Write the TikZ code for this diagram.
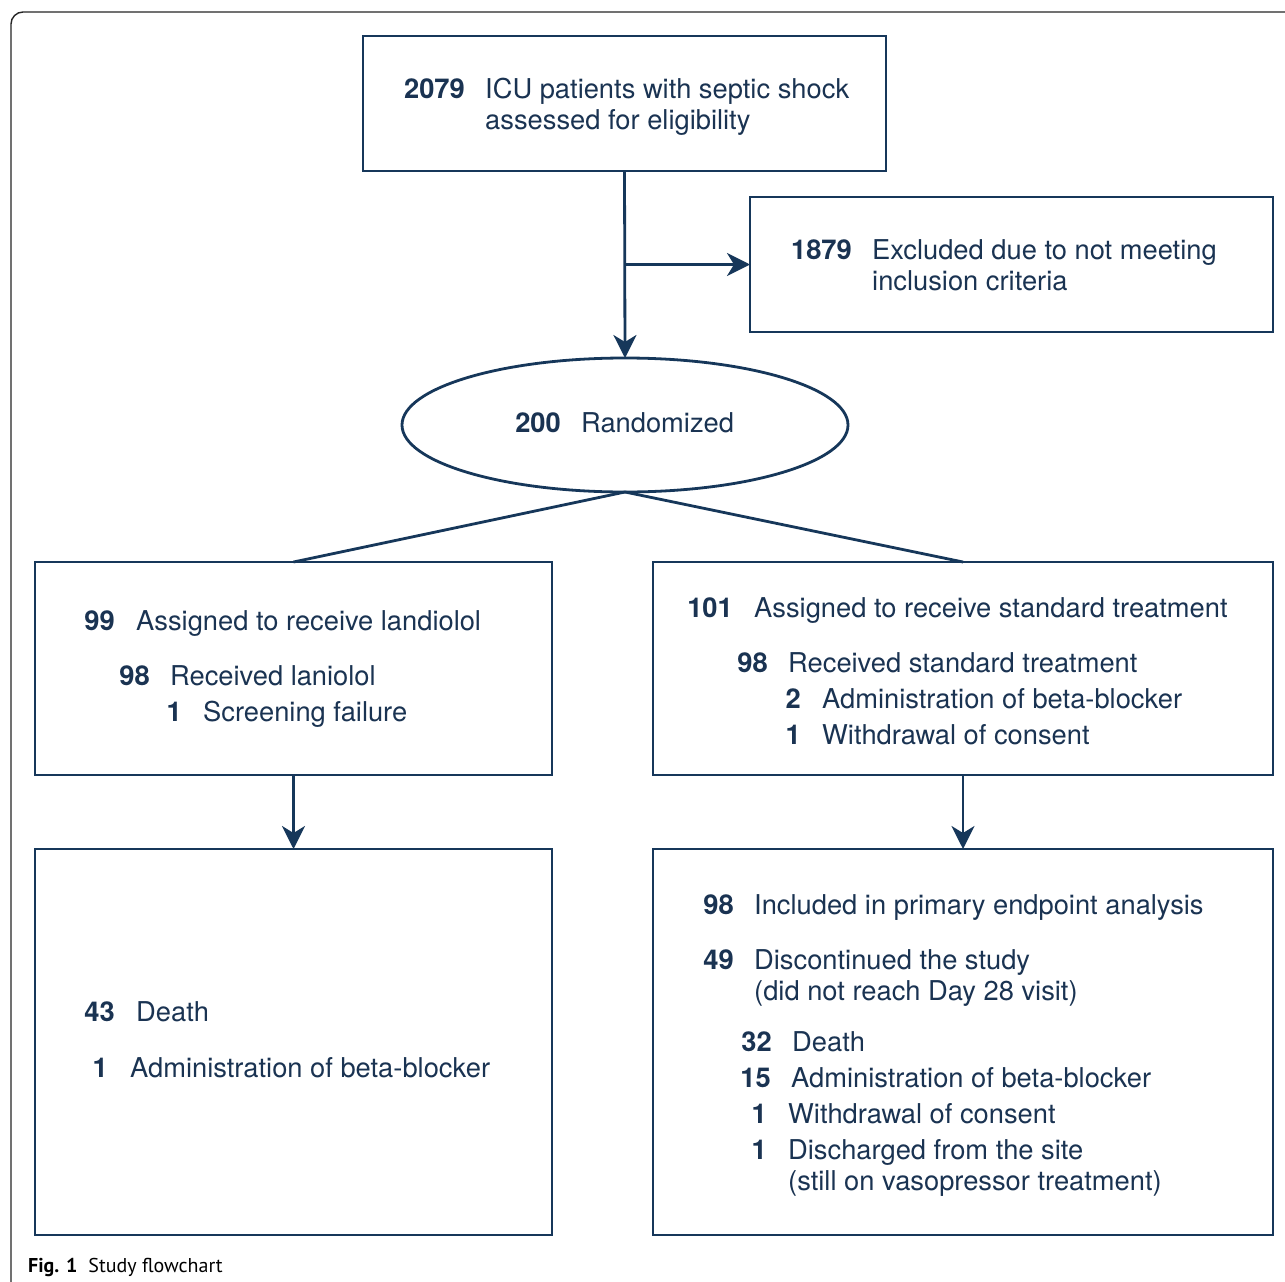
\documentclass[tikz,border=0pt]{standalone}
\usepackage{fontspec}
\setmainfont{TeX Gyre Heros}
\newfontfamily\capfont{PT Sans}
\usetikzlibrary{arrows.meta,shapes.geometric}
\definecolor{navyline}{HTML}{16375A}
\definecolor{navytext}{HTML}{1A3352}
\begin{document}
\begin{tikzpicture}[x=1pt,y=-1pt,
  box/.style={draw=navyline,line width=2.8pt,rectangle,inner sep=0pt,outer sep=0pt},
  oval/.style={draw=navyline,line width=2.8pt,ellipse,inner sep=0pt,outer sep=0pt},
  conn/.style={draw=navyline,line width=2.8pt},
  arr/.style={conn,-{Stealth[length=23pt,width=23pt,inset=7pt]}},
  num/.style={anchor=base east,inner sep=0pt,text=navytext,font=\fontsize{27.3}{31}\selectfont\bfseries},
  lbl/.style={anchor=base west,inner sep=0pt,text=navytext,font=\fontsize{27.3}{31}\selectfont},
]
\useasboundingbox (0,0) rectangle (1285,1282);
\fill[white] (0,0) rectangle (1285,1282);
% outer frame
\draw[line width=1.4pt,color=black!85,rounded corners=12pt] (11,1300) -- (11,12) -- (1300,12);

% boxes
\node[box,minimum width=523pt,minimum height=135pt] (top) at (624.5,103.5) {};
\node[box,minimum width=523pt,minimum height=135pt] (excl) at (1011.5,264.5) {};
\node[oval,minimum width=446pt,minimum height=134pt] (rand) at (625,425) {};
\node[box,minimum width=517pt,minimum height=213pt] (L1) at (293.5,668.5) {};
\node[box,minimum width=620pt,minimum height=213pt] (R1) at (963,668.5) {};
\node[box,minimum width=517pt,minimum height=386pt] (L2) at (293.5,1042) {};
\node[box,minimum width=620pt,minimum height=386pt] (R2) at (963,1042) {};

% connectors
\coordinate (branch) at (top.south |- excl.west);
\draw[arr] (top.south) -- (rand.north);
\draw[arr] (branch) -- (excl.west);
\draw[conn] (rand.south) -- (L1.north);
\draw[conn] (rand.south) -- (R1.north);
\draw[arr] (L1.south) -- (L2.north);
\draw[arr] (R1.south) -- (R2.north);

% top box text
\node[num] (n2079) at (465,98.5) {2079};
\node[lbl] (t2079a) at (485,98.5) {ICU patients with septic shock};
\node[lbl] (t2079b) at (485,129.5) {assessed for eligibility};
% excluded
\node[num] (n1879) at (852,259.5) {1879};
\node[lbl] (t1879a) at (872,259.5) {Excluded due to not meeting};
\node[lbl] (t1879b) at (872,290.5) {inclusion criteria};
% randomized
\node[num] (n200) at (561,432.5) {200};
\node[lbl] (t200) at (581,432.5) {Randomized};
% left box 1
\node[num] (n99) at (115,630.5) {99};
\node[lbl] (t99) at (136,630.5) {Assigned to receive landiolol};
\node[num] (nL98) at (150,685.5) {98};
\node[lbl] (tL98) at (170,685.5) {Received laniolol};
\node[num] (nL1) at (182,721.5) {1};
\node[lbl] (tL1) at (203,721.5) {Screening failure};
% right box 1
\node[num] (n101) at (733,617.5) {101};
\node[lbl] (t101) at (754,617.5) {Assigned to receive standard treatment};
\node[num] (nR98) at (768,672.5) {98};
\node[lbl] (tR98) at (788,672.5) {Received standard treatment};
\node[num] (nR2) at (801,708.5) {2};
\node[lbl] (tR2) at (822,708.5) {Administration of beta-blocker};
\node[num] (nR1) at (801,744.5) {1};
\node[lbl] (tR1) at (822,744.5) {Withdrawal of consent};
% left box 2
\node[num] (n43) at (115,1021.5) {43};
\node[lbl] (t43) at (136,1021.5) {Death};
\node[num] (nL2b) at (108,1077.5) {1};
\node[lbl] (tL2b) at (130,1077.5) {Administration of beta-blocker};
% right box 2
\node[num] (nP98) at (734,914.5) {98};
\node[lbl] (tP98) at (754,914.5) {Included in primary endpoint analysis};
\node[num] (n49) at (734,969.5) {49};
\node[lbl] (t49a) at (754,969.5) {Discontinued the study};
\node[lbl] (t49b) at (754,1000.5) {(did not reach Day 28 visit)};
\node[num] (n32) at (772,1051.5) {32};
\node[lbl] (t32) at (792,1051.5) {Death};
\node[num] (n15) at (771,1087.5) {15};
\node[lbl] (t15) at (791,1087.5) {Administration of beta-blocker};
\node[num] (nW1) at (767,1123.5) {1};
\node[lbl] (tW1) at (788,1123.5) {Withdrawal of consent};
\node[num] (nD1) at (767,1159.5) {1};
\node[lbl] (tD1a) at (788,1159.5) {Discharged from the site};
\node[lbl] (tD1b) at (788,1190.5) {(still on vasopressor treatment)};

% caption
\node[anchor=base west,inner sep=0pt,font=\capfont\fontsize{20}{24}\selectfont] (cap) at (28,1272)
  {\textbf{Fig. 1}\hspace{11pt}Study flowchart};
\end{tikzpicture}
\end{document}
